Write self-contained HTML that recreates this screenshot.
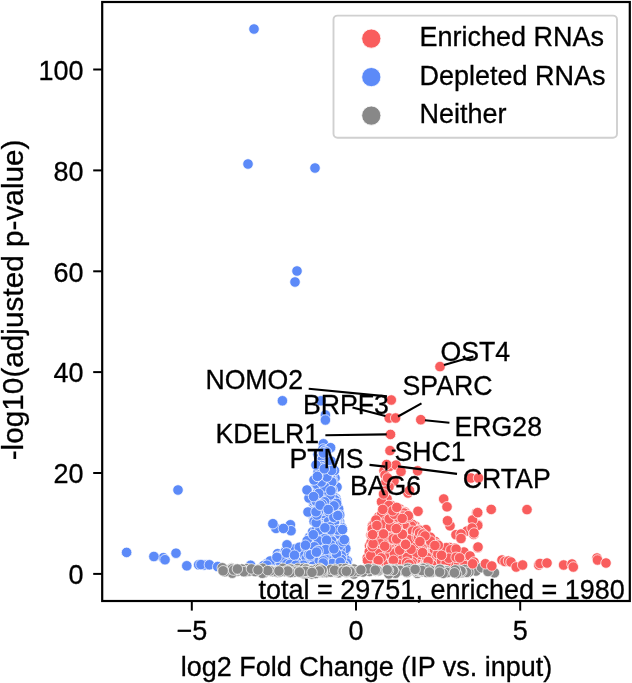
<!DOCTYPE html>
<html><head><meta charset="utf-8"><title>Volcano plot</title>
<style>
html,body{margin:0;padding:0;background:#fff;}
body{width:632px;height:683px;overflow:hidden;font-family:"Liberation Sans",sans-serif;}
svg{display:block;will-change:transform;}
text{font-family:"Liberation Sans",sans-serif;fill:#000;stroke:#000;stroke-width:0.3px;}
.tx,.tx text{font-size:27px;}
.yl{font-size:29.75px;}
.an text{font-size:26.67px;}
.pts circle{stroke:#fff;stroke-width:0.7px;}
.r{fill:#f95d5d;} .b{fill:#5c8af8;} .g{fill:#888888;}
</style></head><body>
<svg width="632" height="683" viewBox="0 0 632 683"><rect width="632" height="683" fill="#fff"/><g class="pts"><circle class="b" r="5.25" cx="347.3" cy="560.5"/><circle class="b" r="5.25" cx="126.6" cy="552.4"/><circle class="b" r="5.25" cx="318.4" cy="565.1"/><circle class="r" r="5.25" cx="370.9" cy="535.1"/><circle class="r" r="5.25" cx="400.9" cy="530.6"/><circle class="b" r="5.25" cx="319.8" cy="544.4"/><circle class="b" r="5.25" cx="335.0" cy="478.0"/><circle class="b" r="5.25" cx="330.7" cy="542.2"/><circle class="r" r="5.25" cx="418.0" cy="511.3"/><circle class="b" r="5.25" cx="330.8" cy="489.2"/><circle class="b" r="5.25" cx="254.0" cy="29.0"/><circle class="r" r="5.25" cx="382.4" cy="557.4"/><circle class="r" r="5.25" cx="367.2" cy="557.9"/><circle class="b" r="5.25" cx="306.6" cy="552.9"/><circle class="r" r="5.25" cx="389.0" cy="512.0"/><circle class="b" r="5.25" cx="286.5" cy="553.9"/><circle class="b" r="5.25" cx="331.1" cy="558.1"/><circle class="b" r="5.25" cx="324.4" cy="522.7"/><circle class="r" r="5.25" cx="410.5" cy="534.8"/><circle class="b" r="5.25" cx="300.2" cy="550.7"/><circle class="b" r="5.25" cx="320.6" cy="527.2"/><circle class="b" r="5.25" cx="305.2" cy="545.8"/><circle class="b" r="5.25" cx="343.5" cy="562.1"/><circle class="b" r="5.25" cx="206.0" cy="564.7"/><circle class="r" r="5.25" cx="406.2" cy="538.0"/><circle class="r" r="5.25" cx="401.1" cy="511.6"/><circle class="b" r="5.25" cx="328.3" cy="470.5"/><circle class="b" r="5.25" cx="318.8" cy="547.6"/><circle class="r" r="5.25" cx="455.0" cy="551.8"/><circle class="r" r="5.25" cx="389.2" cy="418.0"/><circle class="r" r="5.25" cx="378.7" cy="533.7"/><circle class="b" r="5.25" cx="279.6" cy="563.8"/><circle class="b" r="5.25" cx="305.7" cy="556.3"/><circle class="r" r="5.25" cx="427.7" cy="557.4"/><circle class="b" r="5.25" cx="306.5" cy="549.3"/><circle class="r" r="5.25" cx="452.1" cy="555.8"/><circle class="r" r="5.25" cx="404.8" cy="563.4"/><circle class="b" r="5.25" cx="321.0" cy="498.6"/><circle class="b" r="5.25" cx="318.7" cy="559.6"/><circle class="b" r="5.25" cx="337.3" cy="539.6"/><circle class="b" r="5.25" cx="327.9" cy="551.9"/><circle class="r" r="5.25" cx="381.8" cy="549.4"/><circle class="r" r="5.25" cx="407.1" cy="515.6"/><circle class="b" r="5.25" cx="290.4" cy="524.8"/><circle class="b" r="5.25" cx="291.0" cy="530.7"/><circle class="r" r="5.25" cx="384.8" cy="551.5"/><circle class="b" r="5.25" cx="334.2" cy="545.3"/><circle class="r" r="5.25" cx="407.9" cy="538.1"/><circle class="r" r="5.25" cx="449.8" cy="565.4"/><circle class="b" r="5.25" cx="321.2" cy="462.8"/><circle class="r" r="5.25" cx="385.2" cy="522.2"/><circle class="b" r="5.25" cx="344.6" cy="540.1"/><circle class="b" r="5.25" cx="327.8" cy="485.2"/><circle class="r" r="5.25" cx="442.8" cy="554.8"/><circle class="r" r="5.25" cx="441.0" cy="547.9"/><circle class="r" r="5.25" cx="426.5" cy="550.7"/><circle class="r" r="5.25" cx="388.3" cy="564.0"/><circle class="b" r="5.25" cx="322.1" cy="463.3"/><circle class="r" r="5.25" cx="428.8" cy="548.6"/><circle class="b" r="5.25" cx="339.1" cy="535.8"/><circle class="b" r="5.25" cx="325.2" cy="463.6"/><circle class="b" r="5.25" cx="319.3" cy="508.9"/><circle class="r" r="5.25" cx="410.6" cy="546.1"/><circle class="b" r="5.25" cx="308.8" cy="559.5"/><circle class="r" r="5.25" cx="389.5" cy="539.1"/><circle class="r" r="5.25" cx="400.4" cy="554.4"/><circle class="b" r="5.25" cx="323.5" cy="468.5"/><circle class="r" r="5.25" cx="398.0" cy="518.3"/><circle class="r" r="5.25" cx="395.9" cy="546.3"/><circle class="b" r="5.25" cx="339.3" cy="534.6"/><circle class="r" r="5.25" cx="428.7" cy="547.6"/><circle class="r" r="5.25" cx="410.0" cy="557.7"/><circle class="b" r="5.25" cx="313.2" cy="560.2"/><circle class="b" r="5.25" cx="340.5" cy="548.7"/><circle class="r" r="5.25" cx="427.7" cy="563.5"/><circle class="b" r="5.25" cx="315.1" cy="542.1"/><circle class="r" r="5.25" cx="450.0" cy="525.8"/><circle class="r" r="5.25" cx="423.8" cy="534.3"/><circle class="b" r="5.25" cx="293.7" cy="550.7"/><circle class="r" r="5.25" cx="390.0" cy="515.8"/><circle class="r" r="5.25" cx="384.0" cy="470.8"/><circle class="r" r="5.25" cx="401.3" cy="512.5"/><circle class="r" r="5.25" cx="429.1" cy="556.5"/><circle class="b" r="5.25" cx="336.8" cy="523.3"/><circle class="b" r="5.25" cx="337.0" cy="487.0"/><circle class="r" r="5.25" cx="477.8" cy="524.6"/><circle class="b" r="5.25" cx="297.0" cy="271.0"/><circle class="b" r="5.25" cx="319.6" cy="476.9"/><circle class="b" r="5.25" cx="267.0" cy="563.5"/><circle class="r" r="5.25" cx="460.2" cy="565.8"/><circle class="b" r="5.25" cx="330.3" cy="527.7"/><circle class="r" r="5.25" cx="396.0" cy="524.9"/><circle class="b" r="5.25" cx="313.5" cy="503.5"/><circle class="r" r="5.25" cx="397.4" cy="551.1"/><circle class="r" r="5.25" cx="398.8" cy="559.9"/><circle class="b" r="5.25" cx="276.0" cy="528.4"/><circle class="r" r="5.25" cx="410.7" cy="564.8"/><circle class="b" r="5.25" cx="326.5" cy="498.9"/><circle class="b" r="5.25" cx="339.7" cy="522.1"/><circle class="b" r="5.25" cx="322.3" cy="487.2"/><circle class="r" r="5.25" cx="420.1" cy="563.3"/><circle class="r" r="5.25" cx="385.3" cy="537.9"/><circle class="r" r="5.25" cx="438.7" cy="551.1"/><circle class="b" r="5.25" cx="323.3" cy="505.8"/><circle class="b" r="5.25" cx="319.7" cy="555.4"/><circle class="b" r="5.25" cx="319.6" cy="515.9"/><circle class="b" r="5.25" cx="337.8" cy="506.9"/><circle class="b" r="5.25" cx="277.6" cy="553.7"/><circle class="r" r="5.25" cx="386.5" cy="547.2"/><circle class="b" r="5.25" cx="324.4" cy="529.1"/><circle class="r" r="5.25" cx="387.0" cy="507.1"/><circle class="r" r="5.25" cx="446.0" cy="558.0"/><circle class="r" r="5.25" cx="383.7" cy="545.0"/><circle class="r" r="5.25" cx="415.7" cy="557.4"/><circle class="r" r="5.25" cx="441.5" cy="549.8"/><circle class="b" r="5.25" cx="320.6" cy="551.9"/><circle class="b" r="5.25" cx="333.8" cy="547.4"/><circle class="b" r="5.25" cx="335.7" cy="500.1"/><circle class="b" r="5.25" cx="314.0" cy="533.5"/><circle class="r" r="5.25" cx="378.5" cy="516.9"/><circle class="r" r="5.25" cx="435.2" cy="541.4"/><circle class="b" r="5.25" cx="334.0" cy="551.2"/><circle class="r" r="5.25" cx="389.2" cy="537.4"/><circle class="b" r="5.25" cx="323.2" cy="444.0"/><circle class="r" r="5.25" cx="461.0" cy="556.8"/><circle class="b" r="5.25" cx="331.8" cy="490.3"/><circle class="r" r="5.25" cx="403.3" cy="513.6"/><circle class="r" r="5.25" cx="413.1" cy="565.1"/><circle class="r" r="5.25" cx="424.0" cy="542.6"/><circle class="r" r="5.25" cx="403.3" cy="520.7"/><circle class="b" r="5.25" cx="285.3" cy="551.2"/><circle class="r" r="5.25" cx="412.4" cy="531.8"/><circle class="r" r="5.25" cx="403.9" cy="518.5"/><circle class="r" r="5.25" cx="436.5" cy="553.9"/><circle class="b" r="5.25" cx="330.7" cy="540.1"/><circle class="r" r="5.25" cx="394.0" cy="481.0"/><circle class="b" r="5.25" cx="333.2" cy="557.8"/><circle class="r" r="5.25" cx="411.5" cy="555.7"/><circle class="b" r="5.25" cx="336.1" cy="563.1"/><circle class="r" r="5.25" cx="393.9" cy="551.6"/><circle class="b" r="5.25" cx="332.4" cy="557.0"/><circle class="b" r="5.25" cx="319.9" cy="468.3"/><circle class="r" r="5.25" cx="392.2" cy="509.0"/><circle class="r" r="5.25" cx="393.7" cy="532.4"/><circle class="r" r="5.25" cx="397.9" cy="558.1"/><circle class="r" r="5.25" cx="372.3" cy="559.4"/><circle class="b" r="5.25" cx="318.0" cy="454.5"/><circle class="r" r="5.25" cx="458.1" cy="560.0"/><circle class="r" r="5.25" cx="379.9" cy="520.4"/><circle class="b" r="5.25" cx="316.7" cy="523.4"/><circle class="r" r="5.25" cx="452.0" cy="557.5"/><circle class="b" r="5.25" cx="204.0" cy="565.0"/><circle class="r" r="5.25" cx="476.6" cy="513.0"/><circle class="r" r="5.25" cx="379.9" cy="539.4"/><circle class="b" r="5.25" cx="302.0" cy="555.3"/><circle class="b" r="5.25" cx="328.0" cy="554.5"/><circle class="b" r="5.25" cx="314.8" cy="563.6"/><circle class="b" r="5.25" cx="319.5" cy="536.9"/><circle class="r" r="5.25" cx="413.6" cy="533.8"/><circle class="r" r="5.25" cx="386.3" cy="508.4"/><circle class="b" r="5.25" cx="309.6" cy="561.7"/><circle class="r" r="5.25" cx="378.1" cy="521.2"/><circle class="r" r="5.25" cx="385.4" cy="543.2"/><circle class="r" r="5.25" cx="434.1" cy="555.0"/><circle class="b" r="5.25" cx="326.2" cy="461.0"/><circle class="r" r="5.25" cx="418.4" cy="529.5"/><circle class="b" r="5.25" cx="323.6" cy="472.4"/><circle class="b" r="5.25" cx="337.9" cy="555.7"/><circle class="r" r="5.25" cx="382.1" cy="518.8"/><circle class="r" r="5.25" cx="375.4" cy="537.4"/><circle class="r" r="5.25" cx="386.6" cy="510.3"/><circle class="b" r="5.25" cx="333.7" cy="506.1"/><circle class="b" r="5.25" cx="339.6" cy="524.4"/><circle class="b" r="5.25" cx="301.1" cy="562.9"/><circle class="r" r="5.25" cx="467.0" cy="531.0"/><circle class="b" r="5.25" cx="338.4" cy="553.6"/><circle class="r" r="5.25" cx="452.1" cy="552.4"/><circle class="r" r="5.25" cx="419.0" cy="535.6"/><circle class="b" r="5.25" cx="178.0" cy="490.0"/><circle class="r" r="5.25" cx="393.5" cy="543.7"/><circle class="b" r="5.25" cx="308.0" cy="563.8"/><circle class="r" r="5.25" cx="390.8" cy="505.6"/><circle class="b" r="5.25" cx="341.7" cy="565.2"/><circle class="b" r="5.25" cx="336.7" cy="524.9"/><circle class="b" r="5.25" cx="324.3" cy="504.2"/><circle class="r" r="5.25" cx="441.0" cy="563.7"/><circle class="b" r="5.25" cx="250.6" cy="565.3"/><circle class="b" r="5.25" cx="321.6" cy="512.2"/><circle class="b" r="5.25" cx="333.9" cy="540.4"/><circle class="r" r="5.25" cx="382.9" cy="515.5"/><circle class="b" r="5.25" cx="331.6" cy="542.0"/><circle class="b" r="5.25" cx="319.8" cy="512.5"/><circle class="r" r="5.25" cx="387.8" cy="558.7"/><circle class="r" r="5.25" cx="419.5" cy="554.9"/><circle class="b" r="5.25" cx="325.0" cy="551.0"/><circle class="r" r="5.25" cx="391.8" cy="529.6"/><circle class="r" r="5.25" cx="418.4" cy="555.0"/><circle class="r" r="5.25" cx="369.5" cy="545.8"/><circle class="r" r="5.25" cx="407.0" cy="523.1"/><circle class="b" r="5.25" cx="345.1" cy="559.3"/><circle class="b" r="5.25" cx="321.1" cy="478.2"/><circle class="r" r="5.25" cx="380.7" cy="531.2"/><circle class="r" r="5.25" cx="396.5" cy="530.9"/><circle class="b" r="5.25" cx="330.1" cy="503.0"/><circle class="b" r="5.25" cx="318.9" cy="551.9"/><circle class="r" r="5.25" cx="415.4" cy="526.1"/><circle class="b" r="5.25" cx="334.2" cy="547.2"/><circle class="b" r="5.25" cx="333.9" cy="534.4"/><circle class="b" r="5.25" cx="330.4" cy="496.2"/><circle class="r" r="5.25" cx="444.3" cy="555.4"/><circle class="b" r="5.25" cx="337.5" cy="520.0"/><circle class="b" r="5.25" cx="284.7" cy="561.9"/><circle class="r" r="5.25" cx="384.7" cy="552.6"/><circle class="b" r="5.25" cx="318.2" cy="537.5"/><circle class="r" r="5.25" cx="384.7" cy="496.8"/><circle class="b" r="5.25" cx="328.1" cy="553.1"/><circle class="b" r="5.25" cx="324.0" cy="470.6"/><circle class="r" r="5.25" cx="382.3" cy="520.1"/><circle class="r" r="5.25" cx="450.5" cy="559.3"/><circle class="b" r="5.25" cx="341.9" cy="527.6"/><circle class="b" r="5.25" cx="316.6" cy="497.4"/><circle class="b" r="5.25" cx="283.4" cy="528.4"/><circle class="b" r="5.25" cx="304.3" cy="564.1"/><circle class="b" r="5.25" cx="333.0" cy="497.3"/><circle class="r" r="5.25" cx="382.4" cy="521.3"/><circle class="b" r="5.25" cx="315.0" cy="168.0"/><circle class="b" r="5.25" cx="317.2" cy="556.3"/><circle class="b" r="5.25" cx="336.8" cy="523.6"/><circle class="r" r="5.25" cx="372.0" cy="559.1"/><circle class="b" r="5.25" cx="340.4" cy="540.4"/><circle class="b" r="5.25" cx="333.4" cy="563.9"/><circle class="r" r="5.25" cx="444.6" cy="551.5"/><circle class="b" r="5.25" cx="163.3" cy="557.7"/><circle class="b" r="5.25" cx="328.3" cy="477.5"/><circle class="b" r="5.25" cx="318.5" cy="504.5"/><circle class="b" r="5.25" cx="326.2" cy="453.5"/><circle class="r" r="5.25" cx="405.9" cy="525.3"/><circle class="r" r="5.25" cx="446.2" cy="547.6"/><circle class="b" r="5.25" cx="309.3" cy="560.3"/><circle class="b" r="5.25" cx="277.4" cy="559.7"/><circle class="r" r="5.25" cx="402.8" cy="540.5"/><circle class="b" r="5.25" cx="342.5" cy="565.6"/><circle class="r" r="5.25" cx="377.8" cy="564.4"/><circle class="b" r="5.25" cx="320.5" cy="538.8"/><circle class="b" r="5.25" cx="315.3" cy="536.0"/><circle class="b" r="5.25" cx="324.3" cy="452.5"/><circle class="r" r="5.25" cx="372.6" cy="538.5"/><circle class="r" r="5.25" cx="389.0" cy="486.6"/><circle class="r" r="5.25" cx="372.7" cy="558.0"/><circle class="r" r="5.25" cx="408.4" cy="544.5"/><circle class="b" r="5.25" cx="319.2" cy="543.4"/><circle class="b" r="5.25" cx="335.7" cy="543.8"/><circle class="r" r="5.25" cx="400.3" cy="531.3"/><circle class="r" r="5.25" cx="418.8" cy="531.0"/><circle class="r" r="5.25" cx="452.3" cy="561.4"/><circle class="r" r="5.25" cx="421.5" cy="561.2"/><circle class="r" r="5.25" cx="411.2" cy="542.4"/><circle class="r" r="5.25" cx="392.7" cy="515.7"/><circle class="r" r="5.25" cx="458.8" cy="551.8"/><circle class="r" r="5.25" cx="390.6" cy="505.2"/><circle class="r" r="5.25" cx="405.4" cy="539.9"/><circle class="b" r="5.25" cx="339.0" cy="534.7"/><circle class="r" r="5.25" cx="390.3" cy="552.9"/><circle class="r" r="5.25" cx="408.8" cy="536.4"/><circle class="b" r="5.25" cx="335.3" cy="523.2"/><circle class="b" r="5.25" cx="295.1" cy="551.7"/><circle class="r" r="5.25" cx="428.7" cy="553.8"/><circle class="b" r="5.25" cx="315.9" cy="485.2"/><circle class="r" r="5.25" cx="383.6" cy="507.2"/><circle class="b" r="5.25" cx="346.3" cy="564.6"/><circle class="b" r="5.25" cx="318.1" cy="485.1"/><circle class="b" r="5.25" cx="336.5" cy="547.6"/><circle class="b" r="5.25" cx="315.0" cy="563.8"/><circle class="b" r="5.25" cx="314.8" cy="508.2"/><circle class="r" r="5.25" cx="390.5" cy="434.4"/><circle class="r" r="5.25" cx="384.5" cy="556.6"/><circle class="b" r="5.25" cx="335.3" cy="512.8"/><circle class="r" r="5.25" cx="397.6" cy="546.5"/><circle class="r" r="5.25" cx="454.3" cy="564.4"/><circle class="r" r="5.25" cx="412.2" cy="527.3"/><circle class="r" r="5.25" cx="396.0" cy="507.5"/><circle class="b" r="5.25" cx="153.9" cy="556.5"/><circle class="r" r="5.25" cx="408.1" cy="560.9"/><circle class="r" r="5.25" cx="435.6" cy="555.0"/><circle class="r" r="5.25" cx="418.4" cy="534.8"/><circle class="b" r="5.25" cx="344.3" cy="552.0"/><circle class="b" r="5.25" cx="323.3" cy="541.6"/><circle class="r" r="5.25" cx="378.0" cy="535.3"/><circle class="b" r="5.25" cx="332.4" cy="500.9"/><circle class="b" r="5.25" cx="329.3" cy="539.8"/><circle class="r" r="5.25" cx="477.7" cy="525.4"/><circle class="r" r="5.25" cx="414.5" cy="548.5"/><circle class="b" r="5.25" cx="323.5" cy="546.2"/><circle class="r" r="5.25" cx="412.4" cy="524.4"/><circle class="b" r="5.25" cx="343.5" cy="543.4"/><circle class="b" r="5.25" cx="285.8" cy="563.9"/><circle class="b" r="5.25" cx="318.2" cy="506.8"/><circle class="b" r="5.25" cx="282.4" cy="400.8"/><circle class="r" r="5.25" cx="391.9" cy="554.5"/><circle class="b" r="5.25" cx="324.1" cy="523.0"/><circle class="r" r="5.25" cx="371.1" cy="542.5"/><circle class="r" r="5.25" cx="391.3" cy="400.0"/><circle class="b" r="5.25" cx="311.1" cy="561.7"/><circle class="r" r="5.25" cx="411.1" cy="542.1"/><circle class="r" r="5.25" cx="375.0" cy="548.2"/><circle class="r" r="5.25" cx="470.9" cy="478.0"/><circle class="r" r="5.25" cx="385.0" cy="475.0"/><circle class="b" r="5.25" cx="335.2" cy="551.6"/><circle class="b" r="5.25" cx="321.4" cy="486.7"/><circle class="b" r="5.25" cx="336.3" cy="559.4"/><circle class="r" r="5.25" cx="372.0" cy="547.0"/><circle class="b" r="5.25" cx="317.3" cy="485.8"/><circle class="b" r="5.25" cx="317.3" cy="496.3"/><circle class="r" r="5.25" cx="472.6" cy="520.0"/><circle class="r" r="5.25" cx="411.7" cy="535.5"/><circle class="b" r="5.25" cx="311.6" cy="561.4"/><circle class="b" r="5.25" cx="342.9" cy="539.9"/><circle class="r" r="5.25" cx="456.0" cy="534.7"/><circle class="b" r="5.25" cx="301.7" cy="558.6"/><circle class="b" r="5.25" cx="317.9" cy="526.2"/><circle class="r" r="5.25" cx="395.2" cy="523.9"/><circle class="r" r="5.25" cx="388.5" cy="559.3"/><circle class="r" r="5.25" cx="430.2" cy="561.9"/><circle class="b" r="5.25" cx="303.5" cy="557.5"/><circle class="b" r="5.25" cx="323.2" cy="446.4"/><circle class="b" r="5.25" cx="329.6" cy="463.8"/><circle class="r" r="5.25" cx="382.3" cy="547.5"/><circle class="r" r="5.25" cx="399.1" cy="544.8"/><circle class="b" r="5.25" cx="284.9" cy="563.4"/><circle class="b" r="5.25" cx="314.4" cy="496.9"/><circle class="b" r="5.25" cx="314.4" cy="497.7"/><circle class="r" r="5.25" cx="399.7" cy="514.6"/><circle class="r" r="5.25" cx="422.2" cy="553.6"/><circle class="b" r="5.25" cx="332.2" cy="491.4"/><circle class="r" r="5.25" cx="385.6" cy="536.8"/><circle class="b" r="5.25" cx="303.2" cy="561.5"/><circle class="r" r="5.25" cx="383.6" cy="552.4"/><circle class="r" r="5.25" cx="389.7" cy="466.4"/><circle class="b" r="5.25" cx="341.7" cy="543.4"/><circle class="r" r="5.25" cx="373.4" cy="533.5"/><circle class="b" r="5.25" cx="335.8" cy="539.3"/><circle class="b" r="5.25" cx="319.9" cy="525.1"/><circle class="r" r="5.25" cx="422.8" cy="544.4"/><circle class="r" r="5.25" cx="418.7" cy="529.5"/><circle class="b" r="5.25" cx="317.2" cy="560.7"/><circle class="r" r="5.25" cx="383.6" cy="550.0"/><circle class="r" r="5.25" cx="392.3" cy="541.5"/><circle class="r" r="5.25" cx="424.4" cy="544.0"/><circle class="b" r="5.25" cx="338.3" cy="531.8"/><circle class="b" r="5.25" cx="320.5" cy="533.0"/><circle class="r" r="5.25" cx="387.8" cy="560.6"/><circle class="b" r="5.25" cx="309.4" cy="537.3"/><circle class="b" r="5.25" cx="329.5" cy="506.7"/><circle class="b" r="5.25" cx="332.0" cy="489.5"/><circle class="r" r="5.25" cx="416.8" cy="562.8"/><circle class="r" r="5.25" cx="404.2" cy="540.5"/><circle class="r" r="5.25" cx="419.7" cy="536.2"/><circle class="b" r="5.25" cx="330.1" cy="554.0"/><circle class="b" r="5.25" cx="323.9" cy="521.6"/><circle class="b" r="5.25" cx="320.7" cy="468.0"/><circle class="b" r="5.25" cx="344.6" cy="541.0"/><circle class="r" r="5.25" cx="421.2" cy="540.1"/><circle class="r" r="5.25" cx="431.1" cy="557.1"/><circle class="r" r="5.25" cx="392.5" cy="525.2"/><circle class="b" r="5.25" cx="313.8" cy="560.4"/><circle class="b" r="5.25" cx="312.6" cy="531.9"/><circle class="b" r="5.25" cx="318.2" cy="493.9"/><circle class="r" r="5.25" cx="395.8" cy="518.3"/><circle class="b" r="5.25" cx="323.9" cy="478.6"/><circle class="b" r="5.25" cx="312.7" cy="558.3"/><circle class="b" r="5.25" cx="339.0" cy="511.8"/><circle class="r" r="5.25" cx="405.5" cy="523.3"/><circle class="r" r="5.25" cx="411.7" cy="558.3"/><circle class="r" r="5.25" cx="402.7" cy="551.8"/><circle class="b" r="5.25" cx="320.3" cy="550.6"/><circle class="r" r="5.25" cx="449.7" cy="547.5"/><circle class="r" r="5.25" cx="393.0" cy="537.4"/><circle class="b" r="5.25" cx="325.9" cy="532.1"/><circle class="r" r="5.25" cx="407.2" cy="538.4"/><circle class="r" r="5.25" cx="408.0" cy="493.0"/><circle class="b" r="5.25" cx="320.9" cy="400.8"/><circle class="r" r="5.25" cx="436.6" cy="564.9"/><circle class="r" r="5.25" cx="443.7" cy="499.0"/><circle class="r" r="5.25" cx="427.2" cy="537.1"/><circle class="b" r="5.25" cx="315.1" cy="518.7"/><circle class="r" r="5.25" cx="491.2" cy="509.4"/><circle class="r" r="5.25" cx="411.4" cy="526.1"/><circle class="b" r="5.25" cx="330.1" cy="507.5"/><circle class="b" r="5.25" cx="286.9" cy="559.6"/><circle class="r" r="5.25" cx="448.6" cy="558.7"/><circle class="b" r="5.25" cx="332.8" cy="557.6"/><circle class="r" r="5.25" cx="449.2" cy="556.4"/><circle class="b" r="5.25" cx="323.0" cy="453.2"/><circle class="r" r="5.25" cx="406.0" cy="529.5"/><circle class="r" r="5.25" cx="416.2" cy="537.9"/><circle class="b" r="5.25" cx="338.6" cy="562.6"/><circle class="r" r="5.25" cx="399.4" cy="518.2"/><circle class="r" r="5.25" cx="369.3" cy="551.8"/><circle class="b" r="5.25" cx="338.6" cy="546.7"/><circle class="b" r="5.25" cx="298.3" cy="556.4"/><circle class="b" r="5.25" cx="323.4" cy="443.8"/><circle class="r" r="5.25" cx="442.4" cy="555.2"/><circle class="r" r="5.25" cx="401.2" cy="551.1"/><circle class="b" r="5.25" cx="324.8" cy="557.1"/><circle class="b" r="5.25" cx="320.8" cy="467.2"/><circle class="r" r="5.25" cx="411.1" cy="534.0"/><circle class="r" r="5.25" cx="372.8" cy="527.4"/><circle class="r" r="5.25" cx="416.7" cy="534.5"/><circle class="r" r="5.25" cx="426.0" cy="529.6"/><circle class="b" r="5.25" cx="331.3" cy="537.8"/><circle class="r" r="5.25" cx="395.3" cy="544.7"/><circle class="b" r="5.25" cx="335.7" cy="565.7"/><circle class="b" r="5.25" cx="321.3" cy="510.0"/><circle class="b" r="5.25" cx="313.4" cy="516.4"/><circle class="r" r="5.25" cx="385.0" cy="509.5"/><circle class="b" r="5.25" cx="322.6" cy="559.0"/><circle class="b" r="5.25" cx="332.3" cy="559.9"/><circle class="b" r="5.25" cx="314.2" cy="516.3"/><circle class="b" r="5.25" cx="272.4" cy="561.0"/><circle class="b" r="5.25" cx="322.5" cy="544.3"/><circle class="r" r="5.25" cx="447.2" cy="558.0"/><circle class="b" r="5.25" cx="198.7" cy="564.8"/><circle class="r" r="5.25" cx="405.2" cy="550.3"/><circle class="b" r="5.25" cx="201.0" cy="564.6"/><circle class="b" r="5.25" cx="293.9" cy="554.5"/><circle class="b" r="5.25" cx="338.3" cy="531.6"/><circle class="r" r="5.25" cx="527.0" cy="509.6"/><circle class="b" r="5.25" cx="320.1" cy="522.5"/><circle class="b" r="5.25" cx="324.1" cy="484.3"/><circle class="b" r="5.25" cx="321.2" cy="482.2"/><circle class="r" r="5.25" cx="405.8" cy="527.3"/><circle class="r" r="5.25" cx="382.5" cy="521.9"/><circle class="b" r="5.25" cx="318.9" cy="474.5"/><circle class="b" r="5.25" cx="330.9" cy="564.1"/><circle class="r" r="5.25" cx="443.1" cy="562.2"/><circle class="r" r="5.25" cx="377.8" cy="552.9"/><circle class="b" r="5.25" cx="272.9" cy="523.7"/><circle class="r" r="5.25" cx="463.7" cy="561.9"/><circle class="b" r="5.25" cx="316.4" cy="544.6"/><circle class="b" r="5.25" cx="341.9" cy="542.7"/><circle class="r" r="5.25" cx="383.7" cy="519.8"/><circle class="r" r="5.25" cx="387.0" cy="506.3"/><circle class="b" r="5.25" cx="319.2" cy="458.2"/><circle class="r" r="5.25" cx="419.6" cy="562.3"/><circle class="r" r="5.25" cx="404.1" cy="524.4"/><circle class="r" r="5.25" cx="441.3" cy="562.7"/><circle class="b" r="5.25" cx="319.9" cy="545.2"/><circle class="b" r="5.25" cx="324.1" cy="563.0"/><circle class="b" r="5.25" cx="327.4" cy="482.9"/><circle class="b" r="5.25" cx="294.3" cy="549.1"/><circle class="r" r="5.25" cx="400.4" cy="535.6"/><circle class="r" r="5.25" cx="434.5" cy="549.6"/><circle class="r" r="5.25" cx="376.3" cy="561.5"/><circle class="r" r="5.25" cx="439.2" cy="558.6"/><circle class="b" r="5.25" cx="209.4" cy="564.8"/><circle class="r" r="5.25" cx="424.8" cy="558.4"/><circle class="b" r="5.25" cx="326.8" cy="521.3"/><circle class="b" r="5.25" cx="332.3" cy="546.9"/><circle class="b" r="5.25" cx="314.1" cy="514.0"/><circle class="b" r="5.25" cx="339.4" cy="562.0"/><circle class="b" r="5.25" cx="325.1" cy="474.6"/><circle class="r" r="5.25" cx="383.7" cy="525.7"/><circle class="r" r="5.25" cx="404.3" cy="539.6"/><circle class="r" r="5.25" cx="472.0" cy="528.0"/><circle class="b" r="5.25" cx="315.6" cy="545.9"/><circle class="r" r="5.25" cx="419.3" cy="530.3"/><circle class="b" r="5.25" cx="310.0" cy="539.2"/><circle class="r" r="5.25" cx="396.4" cy="516.3"/><circle class="b" r="5.25" cx="330.5" cy="480.5"/><circle class="r" r="5.25" cx="385.6" cy="514.5"/><circle class="r" r="5.25" cx="447.6" cy="564.7"/><circle class="b" r="5.25" cx="325.2" cy="563.4"/><circle class="r" r="5.25" cx="447.5" cy="520.8"/><circle class="b" r="5.25" cx="186.8" cy="565.8"/><circle class="b" r="5.25" cx="340.4" cy="538.7"/><circle class="b" r="5.25" cx="324.7" cy="492.0"/><circle class="b" r="5.25" cx="330.5" cy="529.1"/><circle class="b" r="5.25" cx="327.2" cy="481.1"/><circle class="r" r="5.25" cx="411.1" cy="557.4"/><circle class="b" r="5.25" cx="330.4" cy="493.3"/><circle class="r" r="5.25" cx="423.4" cy="551.6"/><circle class="b" r="5.25" cx="323.8" cy="467.3"/><circle class="r" r="5.25" cx="376.0" cy="532.3"/><circle class="b" r="5.25" cx="324.5" cy="520.1"/><circle class="r" r="5.25" cx="403.2" cy="534.5"/><circle class="b" r="5.25" cx="346.6" cy="563.1"/><circle class="b" r="5.25" cx="331.0" cy="555.2"/><circle class="b" r="5.25" cx="322.4" cy="525.7"/><circle class="b" r="5.25" cx="318.0" cy="472.8"/><circle class="b" r="5.25" cx="335.8" cy="543.5"/><circle class="b" r="5.25" cx="278.5" cy="556.3"/><circle class="b" r="5.25" cx="329.7" cy="497.9"/><circle class="r" r="5.25" cx="383.8" cy="523.0"/><circle class="r" r="5.25" cx="376.4" cy="521.2"/><circle class="r" r="5.25" cx="417.0" cy="563.7"/><circle class="r" r="5.25" cx="400.5" cy="534.1"/><circle class="b" r="5.25" cx="326.9" cy="537.2"/><circle class="b" r="5.25" cx="332.8" cy="480.9"/><circle class="b" r="5.25" cx="335.3" cy="553.7"/><circle class="r" r="5.25" cx="387.0" cy="498.7"/><circle class="b" r="5.25" cx="331.8" cy="476.0"/><circle class="r" r="5.25" cx="451.2" cy="551.9"/><circle class="r" r="5.25" cx="382.9" cy="546.0"/><circle class="r" r="5.25" cx="379.3" cy="548.2"/><circle class="b" r="5.25" cx="317.4" cy="486.6"/><circle class="b" r="5.25" cx="326.3" cy="552.0"/><circle class="r" r="5.25" cx="393.1" cy="530.3"/><circle class="b" r="5.25" cx="321.7" cy="557.9"/><circle class="r" r="5.25" cx="386.0" cy="481.6"/><circle class="b" r="5.25" cx="325.3" cy="535.0"/><circle class="b" r="5.25" cx="301.3" cy="564.2"/><circle class="r" r="5.25" cx="396.0" cy="465.1"/><circle class="r" r="5.25" cx="376.5" cy="526.6"/><circle class="b" r="5.25" cx="344.6" cy="542.8"/><circle class="b" r="5.25" cx="335.0" cy="521.0"/><circle class="r" r="5.25" cx="387.5" cy="478.0"/><circle class="b" r="5.25" cx="217.7" cy="566.6"/><circle class="b" r="5.25" cx="333.9" cy="517.6"/><circle class="b" r="5.25" cx="339.8" cy="564.2"/><circle class="b" r="5.25" cx="327.6" cy="535.9"/><circle class="r" r="5.25" cx="425.3" cy="558.6"/><circle class="r" r="5.25" cx="401.4" cy="562.5"/><circle class="r" r="5.25" cx="399.4" cy="532.5"/><circle class="r" r="5.25" cx="401.0" cy="560.9"/><circle class="b" r="5.25" cx="295.5" cy="563.7"/><circle class="r" r="5.25" cx="422.4" cy="548.0"/><circle class="b" r="5.25" cx="327.3" cy="552.5"/><circle class="r" r="5.25" cx="375.1" cy="544.6"/><circle class="r" r="5.25" cx="396.3" cy="517.7"/><circle class="b" r="5.25" cx="309.3" cy="542.2"/><circle class="b" r="5.25" cx="318.6" cy="499.5"/><circle class="r" r="5.25" cx="425.6" cy="563.5"/><circle class="b" r="5.25" cx="318.8" cy="487.7"/><circle class="r" r="5.25" cx="398.3" cy="519.1"/><circle class="r" r="5.25" cx="414.0" cy="539.4"/><circle class="r" r="5.25" cx="390.0" cy="450.6"/><circle class="b" r="5.25" cx="323.0" cy="449.0"/><circle class="b" r="5.25" cx="323.7" cy="526.9"/><circle class="b" r="5.25" cx="285.4" cy="551.5"/><circle class="b" r="5.25" cx="322.2" cy="513.4"/><circle class="r" r="5.25" cx="372.1" cy="546.5"/><circle class="b" r="5.25" cx="311.4" cy="539.3"/><circle class="b" r="5.25" cx="344.7" cy="565.6"/><circle class="b" r="5.25" cx="324.4" cy="553.5"/><circle class="b" r="5.25" cx="333.0" cy="553.4"/><circle class="r" r="5.25" cx="382.4" cy="512.0"/><circle class="b" r="5.25" cx="318.2" cy="557.2"/><circle class="r" r="5.25" cx="425.4" cy="565.2"/><circle class="r" r="5.25" cx="395.2" cy="528.4"/><circle class="r" r="5.25" cx="388.1" cy="521.9"/><circle class="r" r="5.25" cx="436.3" cy="544.1"/><circle class="b" r="5.25" cx="329.8" cy="521.2"/><circle class="b" r="5.25" cx="340.2" cy="543.9"/><circle class="b" r="5.25" cx="330.3" cy="559.7"/><circle class="r" r="5.25" cx="377.6" cy="538.4"/><circle class="b" r="5.25" cx="317.2" cy="493.1"/><circle class="r" r="5.25" cx="403.1" cy="552.1"/><circle class="r" r="5.25" cx="447.0" cy="506.8"/><circle class="b" r="5.25" cx="331.2" cy="499.3"/><circle class="r" r="5.25" cx="378.0" cy="561.3"/><circle class="r" r="5.25" cx="394.4" cy="519.5"/><circle class="b" r="5.25" cx="304.9" cy="558.4"/><circle class="r" r="5.25" cx="396.1" cy="547.8"/><circle class="r" r="5.25" cx="370.2" cy="561.4"/><circle class="b" r="5.25" cx="325.7" cy="472.0"/><circle class="b" r="5.25" cx="337.3" cy="563.3"/><circle class="r" r="5.25" cx="393.0" cy="513.0"/><circle class="b" r="5.25" cx="279.3" cy="557.7"/><circle class="b" r="5.25" cx="317.9" cy="540.3"/><circle class="r" r="5.25" cx="372.5" cy="525.5"/><circle class="b" r="5.25" cx="330.8" cy="522.3"/><circle class="r" r="5.25" cx="377.9" cy="557.3"/><circle class="b" r="5.25" cx="330.6" cy="501.6"/><circle class="b" r="5.25" cx="340.2" cy="553.0"/><circle class="r" r="5.25" cx="477.7" cy="512.6"/><circle class="b" r="5.25" cx="322.4" cy="458.8"/><circle class="b" r="5.25" cx="328.2" cy="525.6"/><circle class="b" r="5.25" cx="307.6" cy="558.3"/><circle class="b" r="5.25" cx="280.8" cy="564.9"/><circle class="r" r="5.25" cx="379.0" cy="526.5"/><circle class="r" r="5.25" cx="381.2" cy="539.3"/><circle class="r" r="5.25" cx="461.0" cy="534.0"/><circle class="r" r="5.25" cx="388.5" cy="538.9"/><circle class="r" r="5.25" cx="390.6" cy="518.2"/><circle class="r" r="5.25" cx="378.8" cy="548.0"/><circle class="b" r="5.25" cx="287.0" cy="544.8"/><circle class="r" r="5.25" cx="427.3" cy="563.9"/><circle class="r" r="5.25" cx="376.6" cy="559.9"/><circle class="b" r="5.25" cx="335.8" cy="512.1"/><circle class="r" r="5.25" cx="430.3" cy="537.2"/><circle class="b" r="5.25" cx="332.1" cy="535.0"/><circle class="b" r="5.25" cx="336.4" cy="501.8"/><circle class="r" r="5.25" cx="408.3" cy="552.6"/><circle class="r" r="5.25" cx="454.5" cy="553.5"/><circle class="r" r="5.25" cx="389.0" cy="506.6"/><circle class="r" r="5.25" cx="399.9" cy="508.9"/><circle class="r" r="5.25" cx="464.0" cy="552.0"/><circle class="b" r="5.25" cx="330.3" cy="482.7"/><circle class="b" r="5.25" cx="322.0" cy="460.2"/><circle class="r" r="5.25" cx="413.3" cy="537.5"/><circle class="r" r="5.25" cx="401.9" cy="511.5"/><circle class="r" r="5.25" cx="398.6" cy="558.4"/><circle class="b" r="5.25" cx="338.6" cy="508.8"/><circle class="b" r="5.25" cx="338.6" cy="557.7"/><circle class="r" r="5.25" cx="404.0" cy="555.4"/><circle class="b" r="5.25" cx="310.8" cy="554.4"/><circle class="b" r="5.25" cx="325.4" cy="539.5"/><circle class="b" r="5.25" cx="339.7" cy="515.0"/><circle class="r" r="5.25" cx="381.4" cy="539.1"/><circle class="b" r="5.25" cx="317.0" cy="484.5"/><circle class="r" r="5.25" cx="413.4" cy="532.1"/><circle class="b" r="5.25" cx="304.3" cy="562.0"/><circle class="r" r="5.25" cx="454.2" cy="565.7"/><circle class="b" r="5.25" cx="329.3" cy="485.3"/><circle class="b" r="5.25" cx="333.7" cy="522.1"/><circle class="r" r="5.25" cx="449.4" cy="557.5"/><circle class="r" r="5.25" cx="391.5" cy="511.7"/><circle class="b" r="5.25" cx="331.9" cy="540.7"/><circle class="r" r="5.25" cx="390.7" cy="512.0"/><circle class="r" r="5.25" cx="385.4" cy="530.4"/><circle class="b" r="5.25" cx="319.7" cy="556.1"/><circle class="b" r="5.25" cx="318.8" cy="534.9"/><circle class="r" r="5.25" cx="446.3" cy="547.7"/><circle class="b" r="5.25" cx="326.5" cy="498.3"/><circle class="b" r="5.25" cx="325.4" cy="536.5"/><circle class="r" r="5.25" cx="388.9" cy="561.8"/><circle class="b" r="5.25" cx="328.5" cy="558.5"/><circle class="r" r="5.25" cx="398.5" cy="559.6"/><circle class="b" r="5.25" cx="311.4" cy="559.3"/><circle class="b" r="5.25" cx="309.0" cy="562.9"/><circle class="b" r="5.25" cx="330.4" cy="476.0"/><circle class="r" r="5.25" cx="376.4" cy="543.7"/><circle class="b" r="5.25" cx="308.0" cy="512.0"/><circle class="r" r="5.25" cx="384.0" cy="554.8"/><circle class="r" r="5.25" cx="383.2" cy="519.9"/><circle class="b" r="5.25" cx="335.8" cy="498.2"/><circle class="r" r="5.25" cx="417.4" cy="558.0"/><circle class="b" r="5.25" cx="327.2" cy="490.8"/><circle class="r" r="5.25" cx="454.5" cy="559.0"/><circle class="b" r="5.25" cx="325.0" cy="515.9"/><circle class="r" r="5.25" cx="437.8" cy="553.8"/><circle class="b" r="5.25" cx="333.2" cy="529.2"/><circle class="r" r="5.25" cx="381.7" cy="514.2"/><circle class="r" r="5.25" cx="414.6" cy="559.1"/><circle class="b" r="5.25" cx="324.9" cy="465.3"/><circle class="b" r="5.25" cx="313.9" cy="543.9"/><circle class="r" r="5.25" cx="402.3" cy="548.5"/><circle class="r" r="5.25" cx="477.7" cy="547.7"/><circle class="b" r="5.25" cx="325.1" cy="558.0"/><circle class="b" r="5.25" cx="330.6" cy="447.7"/><circle class="r" r="5.25" cx="405.2" cy="512.1"/><circle class="r" r="5.25" cx="385.4" cy="555.4"/><circle class="b" r="5.25" cx="315.4" cy="549.4"/><circle class="b" r="5.25" cx="330.3" cy="488.7"/><circle class="r" r="5.25" cx="430.8" cy="543.0"/><circle class="r" r="5.25" cx="367.5" cy="560.4"/><circle class="r" r="5.25" cx="405.2" cy="555.4"/><circle class="r" r="5.25" cx="385.5" cy="491.0"/><circle class="r" r="5.25" cx="415.7" cy="552.9"/><circle class="b" r="5.25" cx="322.4" cy="506.3"/><circle class="r" r="5.25" cx="408.6" cy="544.5"/><circle class="b" r="5.25" cx="317.0" cy="514.0"/><circle class="b" r="5.25" cx="327.7" cy="493.6"/><circle class="r" r="5.25" cx="380.9" cy="538.5"/><circle class="b" r="5.25" cx="326.7" cy="493.3"/><circle class="b" r="5.25" cx="328.7" cy="520.4"/><circle class="b" r="5.25" cx="323.8" cy="509.8"/><circle class="b" r="5.25" cx="333.4" cy="497.0"/><circle class="r" r="5.25" cx="402.1" cy="562.7"/><circle class="r" r="5.25" cx="444.9" cy="564.6"/><circle class="r" r="5.25" cx="395.6" cy="418.0"/><circle class="r" r="5.25" cx="422.1" cy="550.9"/><circle class="b" r="5.25" cx="325.4" cy="415.0"/><circle class="r" r="5.25" cx="398.0" cy="511.6"/><circle class="r" r="5.25" cx="399.4" cy="532.0"/><circle class="r" r="5.25" cx="374.2" cy="523.7"/><circle class="r" r="5.25" cx="397.3" cy="527.0"/><circle class="r" r="5.25" cx="402.9" cy="514.8"/><circle class="r" r="5.25" cx="410.0" cy="535.2"/><circle class="r" r="5.25" cx="397.1" cy="522.4"/><circle class="r" r="5.25" cx="412.5" cy="531.1"/><circle class="r" r="5.25" cx="377.2" cy="523.4"/><circle class="b" r="5.25" cx="295.0" cy="282.0"/><circle class="r" r="5.25" cx="416.6" cy="534.5"/><circle class="r" r="5.25" cx="403.8" cy="513.3"/><circle class="r" r="5.25" cx="417.2" cy="531.0"/><circle class="r" r="5.25" cx="448.1" cy="560.5"/><circle class="b" r="5.25" cx="324.0" cy="491.3"/><circle class="b" r="5.25" cx="315.9" cy="530.6"/><circle class="r" r="5.25" cx="404.3" cy="544.9"/><circle class="b" r="5.25" cx="332.6" cy="529.1"/><circle class="r" r="5.25" cx="372.4" cy="530.3"/><circle class="b" r="5.25" cx="309.9" cy="553.7"/><circle class="b" r="5.25" cx="327.0" cy="488.0"/><circle class="r" r="5.25" cx="451.8" cy="556.9"/><circle class="r" r="5.25" cx="389.2" cy="541.6"/><circle class="b" r="5.25" cx="331.2" cy="471.5"/><circle class="b" r="5.25" cx="342.1" cy="565.5"/><circle class="b" r="5.25" cx="322.1" cy="513.5"/><circle class="b" r="5.25" cx="324.1" cy="473.8"/><circle class="r" r="5.25" cx="396.9" cy="558.7"/><circle class="r" r="5.25" cx="446.4" cy="556.5"/><circle class="r" r="5.25" cx="418.6" cy="536.4"/><circle class="b" r="5.25" cx="323.9" cy="510.2"/><circle class="b" r="5.25" cx="315.4" cy="496.5"/><circle class="b" r="5.25" cx="336.2" cy="500.3"/><circle class="b" r="5.25" cx="305.9" cy="552.1"/><circle class="r" r="5.25" cx="415.8" cy="559.1"/><circle class="b" r="5.25" cx="331.3" cy="565.2"/><circle class="b" r="5.25" cx="323.4" cy="491.9"/><circle class="b" r="5.25" cx="316.6" cy="537.8"/><circle class="r" r="5.25" cx="393.5" cy="528.9"/><circle class="b" r="5.25" cx="316.4" cy="496.0"/><circle class="r" r="5.25" cx="390.3" cy="542.7"/><circle class="r" r="5.25" cx="405.6" cy="539.5"/><circle class="b" r="5.25" cx="334.4" cy="522.3"/><circle class="r" r="5.25" cx="387.6" cy="562.9"/><circle class="b" r="5.25" cx="329.0" cy="483.0"/><circle class="r" r="5.25" cx="450.3" cy="562.1"/><circle class="r" r="5.25" cx="465.1" cy="560.2"/><circle class="r" r="5.25" cx="374.3" cy="554.5"/><circle class="b" r="5.25" cx="310.6" cy="561.9"/><circle class="b" r="5.25" cx="297.5" cy="555.7"/><circle class="r" r="5.25" cx="397.5" cy="543.8"/><circle class="b" r="5.25" cx="322.7" cy="528.0"/><circle class="r" r="5.25" cx="454.8" cy="548.2"/><circle class="r" r="5.25" cx="378.1" cy="564.7"/><circle class="b" r="5.25" cx="317.1" cy="506.5"/><circle class="b" r="5.25" cx="331.2" cy="482.5"/><circle class="b" r="5.25" cx="319.7" cy="529.8"/><circle class="r" r="5.25" cx="392.6" cy="560.1"/><circle class="r" r="5.25" cx="386.1" cy="531.1"/><circle class="r" r="5.25" cx="390.9" cy="524.1"/><circle class="b" r="5.25" cx="334.6" cy="499.6"/><circle class="r" r="5.25" cx="413.2" cy="543.4"/><circle class="b" r="5.25" cx="315.9" cy="545.8"/><circle class="r" r="5.25" cx="387.0" cy="529.7"/><circle class="r" r="5.25" cx="391.6" cy="549.8"/><circle class="r" r="5.25" cx="407.9" cy="543.8"/><circle class="b" r="5.25" cx="322.2" cy="546.8"/><circle class="r" r="5.25" cx="399.1" cy="547.8"/><circle class="b" r="5.25" cx="327.9" cy="500.7"/><circle class="b" r="5.25" cx="322.9" cy="452.4"/><circle class="b" r="5.25" cx="332.4" cy="553.3"/><circle class="r" r="5.25" cx="385.0" cy="554.6"/><circle class="r" r="5.25" cx="414.8" cy="544.3"/><circle class="b" r="5.25" cx="321.7" cy="465.5"/><circle class="r" r="5.25" cx="406.3" cy="513.8"/><circle class="r" r="5.25" cx="403.9" cy="537.7"/><circle class="r" r="5.25" cx="391.2" cy="513.9"/><circle class="b" r="5.25" cx="334.7" cy="548.7"/><circle class="b" r="5.25" cx="302.5" cy="550.3"/><circle class="b" r="5.25" cx="331.0" cy="500.5"/><circle class="b" r="5.25" cx="327.4" cy="530.1"/><circle class="b" r="5.25" cx="326.6" cy="477.7"/><circle class="r" r="5.25" cx="404.8" cy="518.2"/><circle class="b" r="5.25" cx="345.8" cy="548.5"/><circle class="b" r="5.25" cx="331.7" cy="541.0"/><circle class="b" r="5.25" cx="318.4" cy="512.0"/><circle class="r" r="5.25" cx="478.0" cy="547.0"/><circle class="b" r="5.25" cx="331.8" cy="482.1"/><circle class="r" r="5.25" cx="430.5" cy="541.0"/><circle class="b" r="5.25" cx="334.4" cy="470.5"/><circle class="b" r="5.25" cx="299.3" cy="547.3"/><circle class="b" r="5.25" cx="340.2" cy="549.7"/><circle class="b" r="5.25" cx="304.8" cy="555.2"/><circle class="r" r="5.25" cx="420.8" cy="419.7"/><circle class="b" r="5.25" cx="319.1" cy="559.8"/><circle class="b" r="5.25" cx="307.2" cy="540.7"/><circle class="r" r="5.25" cx="372.3" cy="529.1"/><circle class="r" r="5.25" cx="394.0" cy="559.3"/><circle class="r" r="5.25" cx="394.9" cy="510.7"/><circle class="b" r="5.25" cx="321.6" cy="467.5"/><circle class="r" r="5.25" cx="386.9" cy="538.9"/><circle class="r" r="5.25" cx="438.3" cy="545.2"/><circle class="b" r="5.25" cx="326.5" cy="557.2"/><circle class="r" r="5.25" cx="399.4" cy="559.9"/><circle class="r" r="5.25" cx="376.9" cy="555.3"/><circle class="r" r="5.25" cx="420.3" cy="554.4"/><circle class="r" r="5.25" cx="470.0" cy="556.0"/><circle class="r" r="5.25" cx="434.9" cy="545.5"/><circle class="b" r="5.25" cx="330.5" cy="555.6"/><circle class="b" r="5.25" cx="337.4" cy="514.8"/><circle class="r" r="5.25" cx="394.2" cy="534.5"/><circle class="r" r="5.25" cx="377.4" cy="549.2"/><circle class="r" r="5.25" cx="458.4" cy="562.5"/><circle class="b" r="5.25" cx="324.0" cy="546.2"/><circle class="b" r="5.25" cx="326.8" cy="559.2"/><circle class="b" r="5.25" cx="323.9" cy="556.4"/><circle class="b" r="5.25" cx="330.4" cy="531.1"/><circle class="r" r="5.25" cx="408.9" cy="539.8"/><circle class="r" r="5.25" cx="395.4" cy="565.2"/><circle class="r" r="5.25" cx="450.8" cy="549.8"/><circle class="b" r="5.25" cx="343.5" cy="564.5"/><circle class="r" r="5.25" cx="409.8" cy="560.4"/><circle class="b" r="5.25" cx="316.7" cy="544.1"/><circle class="r" r="5.25" cx="395.0" cy="508.7"/><circle class="b" r="5.25" cx="263.4" cy="565.8"/><circle class="r" r="5.25" cx="393.4" cy="507.3"/><circle class="r" r="5.25" cx="394.3" cy="516.0"/><circle class="b" r="5.25" cx="340.1" cy="534.8"/><circle class="r" r="5.25" cx="385.9" cy="520.9"/><circle class="r" r="5.25" cx="379.0" cy="555.0"/><circle class="r" r="5.25" cx="389.0" cy="535.3"/><circle class="r" r="5.25" cx="381.5" cy="549.5"/><circle class="b" r="5.25" cx="339.4" cy="545.2"/><circle class="r" r="5.25" cx="417.0" cy="537.9"/><circle class="b" r="5.25" cx="306.3" cy="558.4"/><circle class="b" r="5.25" cx="270.2" cy="561.0"/><circle class="b" r="5.25" cx="314.1" cy="521.4"/><circle class="r" r="5.25" cx="391.8" cy="505.8"/><circle class="b" r="5.25" cx="338.9" cy="529.9"/><circle class="b" r="5.25" cx="313.5" cy="501.3"/><circle class="r" r="5.25" cx="396.5" cy="551.6"/><circle class="r" r="5.25" cx="432.1" cy="565.1"/><circle class="r" r="5.25" cx="377.7" cy="553.4"/><circle class="b" r="5.25" cx="329.9" cy="526.9"/><circle class="r" r="5.25" cx="426.6" cy="557.2"/><circle class="b" r="5.25" cx="319.1" cy="480.0"/><circle class="b" r="5.25" cx="341.3" cy="555.7"/><circle class="r" r="5.25" cx="404.0" cy="513.0"/><circle class="r" r="5.25" cx="415.1" cy="553.3"/><circle class="r" r="5.25" cx="381.5" cy="501.8"/><circle class="b" r="5.25" cx="325.1" cy="538.5"/><circle class="r" r="5.25" cx="419.9" cy="534.3"/><circle class="b" r="5.25" cx="330.0" cy="495.1"/><circle class="b" r="5.25" cx="296.9" cy="562.1"/><circle class="b" r="5.25" cx="288.3" cy="565.1"/><circle class="b" r="5.25" cx="316.2" cy="522.7"/><circle class="b" r="5.25" cx="325.6" cy="489.9"/><circle class="b" r="5.25" cx="313.1" cy="501.1"/><circle class="r" r="5.25" cx="418.6" cy="537.2"/><circle class="b" r="5.25" cx="341.3" cy="559.4"/><circle class="r" r="5.25" cx="380.3" cy="530.0"/><circle class="r" r="5.25" cx="382.2" cy="524.2"/><circle class="b" r="5.25" cx="309.0" cy="498.0"/><circle class="r" r="5.25" cx="391.2" cy="527.6"/><circle class="b" r="5.25" cx="330.7" cy="545.0"/><circle class="b" r="5.25" cx="324.6" cy="486.7"/><circle class="b" r="5.25" cx="328.9" cy="512.0"/><circle class="r" r="5.25" cx="441.4" cy="561.1"/><circle class="r" r="5.25" cx="403.1" cy="516.0"/><circle class="b" r="5.25" cx="325.4" cy="420.0"/><circle class="r" r="5.25" cx="391.2" cy="517.8"/><circle class="r" r="5.25" cx="402.3" cy="545.5"/><circle class="r" r="5.25" cx="478.5" cy="478.0"/><circle class="r" r="5.25" cx="401.4" cy="558.8"/><circle class="b" r="5.25" cx="334.9" cy="551.5"/><circle class="r" r="5.25" cx="394.3" cy="553.2"/><circle class="b" r="5.25" cx="332.3" cy="563.5"/><circle class="r" r="5.25" cx="393.1" cy="538.8"/><circle class="b" r="5.25" cx="323.3" cy="560.8"/><circle class="b" r="5.25" cx="176.0" cy="553.2"/><circle class="r" r="5.25" cx="456.1" cy="549.1"/><circle class="r" r="5.25" cx="370.7" cy="555.7"/><circle class="b" r="5.25" cx="318.5" cy="540.9"/><circle class="r" r="5.25" cx="473.8" cy="534.4"/><circle class="r" r="5.25" cx="419.5" cy="533.0"/><circle class="r" r="5.25" cx="405.1" cy="543.4"/><circle class="b" r="5.25" cx="319.8" cy="500.6"/><circle class="r" r="5.25" cx="421.7" cy="537.6"/><circle class="r" r="5.25" cx="375.9" cy="520.0"/><circle class="b" r="5.25" cx="333.8" cy="517.3"/><circle class="b" r="5.25" cx="337.8" cy="515.5"/><circle class="b" r="5.25" cx="336.6" cy="503.4"/><circle class="r" r="5.25" cx="378.7" cy="540.4"/><circle class="r" r="5.25" cx="474.0" cy="562.0"/><circle class="b" r="5.25" cx="322.1" cy="481.3"/><circle class="b" r="5.25" cx="318.7" cy="477.7"/><circle class="r" r="5.25" cx="408.7" cy="517.0"/><circle class="b" r="5.25" cx="324.3" cy="450.9"/><circle class="r" r="5.25" cx="377.5" cy="533.8"/><circle class="b" r="5.25" cx="316.9" cy="515.0"/><circle class="r" r="5.25" cx="399.7" cy="550.2"/><circle class="b" r="5.25" cx="316.9" cy="502.9"/><circle class="r" r="5.25" cx="399.3" cy="565.3"/><circle class="r" r="5.25" cx="446.1" cy="562.9"/><circle class="r" r="5.25" cx="372.1" cy="545.9"/><circle class="b" r="5.25" cx="295.3" cy="563.3"/><circle class="r" r="5.25" cx="372.3" cy="546.8"/><circle class="r" r="5.25" cx="440.0" cy="366.6"/><circle class="r" r="5.25" cx="376.9" cy="525.5"/><circle class="r" r="5.25" cx="390.5" cy="526.5"/><circle class="r" r="5.25" cx="389.2" cy="518.9"/><circle class="b" r="5.25" cx="316.2" cy="501.0"/><circle class="r" r="5.25" cx="371.9" cy="535.6"/><circle class="b" r="5.25" cx="323.2" cy="474.2"/><circle class="b" r="5.25" cx="319.7" cy="473.4"/><circle class="b" r="5.25" cx="324.6" cy="501.8"/><circle class="b" r="5.25" cx="331.0" cy="461.0"/><circle class="b" r="5.25" cx="326.6" cy="540.1"/><circle class="b" r="5.25" cx="325.8" cy="549.5"/><circle class="b" r="5.25" cx="281.5" cy="557.8"/><circle class="r" r="5.25" cx="412.6" cy="561.9"/><circle class="b" r="5.25" cx="322.0" cy="504.1"/><circle class="b" r="5.25" cx="266.9" cy="565.2"/><circle class="b" r="5.25" cx="323.2" cy="563.0"/><circle class="b" r="5.25" cx="343.0" cy="541.7"/><circle class="r" r="5.25" cx="423.0" cy="534.0"/><circle class="b" r="5.25" cx="286.5" cy="552.9"/><circle class="r" r="5.25" cx="448.7" cy="558.2"/><circle class="b" r="5.25" cx="303.4" cy="565.2"/><circle class="b" r="5.25" cx="307.0" cy="490.0"/><circle class="b" r="5.25" cx="337.9" cy="530.0"/><circle class="b" r="5.25" cx="306.0" cy="547.2"/><circle class="r" r="5.25" cx="422.5" cy="552.6"/><circle class="b" r="5.25" cx="318.7" cy="493.4"/><circle class="r" r="5.25" cx="425.0" cy="535.9"/><circle class="r" r="5.25" cx="407.3" cy="557.4"/><circle class="b" r="5.25" cx="286.7" cy="563.9"/><circle class="b" r="5.25" cx="321.3" cy="482.0"/><circle class="r" r="5.25" cx="456.1" cy="557.3"/><circle class="b" r="5.25" cx="313.6" cy="496.6"/><circle class="r" r="5.25" cx="411.5" cy="564.1"/><circle class="b" r="5.25" cx="276.9" cy="557.3"/><circle class="r" r="5.25" cx="401.0" cy="471.5"/><circle class="b" r="5.25" cx="314.0" cy="480.0"/><circle class="b" r="5.25" cx="326.9" cy="477.0"/><circle class="r" r="5.25" cx="411.1" cy="549.3"/><circle class="b" r="5.25" cx="317.9" cy="476.1"/><circle class="r" r="5.25" cx="389.0" cy="505.4"/><circle class="b" r="5.25" cx="316.0" cy="511.8"/><circle class="r" r="5.25" cx="474.0" cy="533.0"/><circle class="r" r="5.25" cx="398.5" cy="564.2"/><circle class="r" r="5.25" cx="408.3" cy="515.7"/><circle class="b" r="5.25" cx="320.1" cy="505.2"/><circle class="b" r="5.25" cx="331.6" cy="470.4"/><circle class="b" r="5.25" cx="317.5" cy="552.1"/><circle class="r" r="5.25" cx="386.6" cy="464.5"/><circle class="r" r="5.25" cx="464.5" cy="565.5"/><circle class="b" r="5.25" cx="326.5" cy="452.0"/><circle class="r" r="5.25" cx="373.1" cy="543.7"/><circle class="r" r="5.25" cx="396.6" cy="539.0"/><circle class="b" r="5.25" cx="314.3" cy="546.8"/><circle class="r" r="5.25" cx="383.5" cy="533.9"/><circle class="b" r="5.25" cx="318.2" cy="471.4"/><circle class="b" r="5.25" cx="334.0" cy="505.8"/><circle class="b" r="5.25" cx="316.0" cy="465.0"/><circle class="r" r="5.25" cx="398.1" cy="517.3"/><circle class="r" r="5.25" cx="394.2" cy="514.2"/><circle class="r" r="5.25" cx="392.6" cy="510.8"/><circle class="r" r="5.25" cx="406.7" cy="562.3"/><circle class="r" r="5.25" cx="417.6" cy="470.8"/><circle class="b" r="5.25" cx="290.1" cy="564.3"/><circle class="r" r="5.25" cx="386.9" cy="547.8"/><circle class="r" r="5.25" cx="402.4" cy="534.3"/><circle class="b" r="5.25" cx="317.4" cy="476.4"/><circle class="r" r="5.25" cx="402.2" cy="518.4"/><circle class="b" r="5.25" cx="328.2" cy="509.5"/><circle class="r" r="5.25" cx="372.6" cy="534.6"/><circle class="r" r="5.25" cx="396.8" cy="507.4"/><circle class="b" r="5.25" cx="324.3" cy="468.8"/><circle class="r" r="5.25" cx="393.4" cy="560.3"/><circle class="b" r="5.25" cx="344.3" cy="539.6"/><circle class="b" r="5.25" cx="336.5" cy="553.8"/><circle class="r" r="5.25" cx="396.3" cy="528.6"/><circle class="b" r="5.25" cx="330.8" cy="529.8"/><circle class="r" r="5.25" cx="405.6" cy="544.4"/><circle class="r" r="5.25" cx="441.5" cy="555.3"/><circle class="b" r="5.25" cx="310.0" cy="556.4"/><circle class="b" r="5.25" cx="318.1" cy="550.6"/><circle class="b" r="5.25" cx="294.5" cy="555.2"/><circle class="b" r="5.25" cx="340.2" cy="562.2"/><circle class="r" r="5.25" cx="381.2" cy="557.9"/><circle class="r" r="5.25" cx="378.2" cy="560.5"/><circle class="r" r="5.25" cx="383.5" cy="494.0"/><circle class="r" r="5.25" cx="409.5" cy="490.4"/><circle class="r" r="5.25" cx="382.8" cy="509.4"/><circle class="r" r="5.25" cx="384.7" cy="546.2"/><circle class="b" r="5.25" cx="324.9" cy="527.8"/><circle class="b" r="5.25" cx="165.0" cy="559.7"/><circle class="b" r="5.25" cx="333.9" cy="548.9"/><circle class="r" r="5.25" cx="461.0" cy="538.5"/><circle class="b" r="5.25" cx="308.7" cy="554.7"/><circle class="b" r="5.25" cx="330.9" cy="490.7"/><circle class="r" r="5.25" cx="409.0" cy="564.3"/><circle class="b" r="5.25" cx="342.5" cy="529.5"/><circle class="b" r="5.25" cx="305.5" cy="545.2"/><circle class="b" r="5.25" cx="248.0" cy="164.0"/><circle class="r" r="5.25" cx="459.6" cy="557.9"/><circle class="b" r="5.25" cx="310.3" cy="554.9"/><circle class="r" r="5.25" cx="419.9" cy="541.6"/><circle class="r" r="5.25" cx="428.2" cy="561.4"/><circle class="b" r="5.25" cx="323.4" cy="453.0"/><circle class="b" r="5.25" cx="316.5" cy="552.1"/><circle class="b" r="5.25" cx="313.3" cy="534.7"/><circle class="b" r="5.25" cx="295.6" cy="565.3"/><circle class="g" r="5.25" cx="319.4" cy="569.8"/><circle class="g" r="5.25" cx="457.2" cy="572.8"/><circle class="g" r="5.25" cx="297.8" cy="568.3"/><circle class="g" r="5.25" cx="262.6" cy="572.4"/><circle class="g" r="5.25" cx="259.5" cy="569.1"/><circle class="g" r="5.25" cx="471.3" cy="570.0"/><circle class="g" r="5.25" cx="426.4" cy="571.7"/><circle class="g" r="5.25" cx="467.2" cy="571.9"/><circle class="g" r="5.25" cx="316.4" cy="573.0"/><circle class="g" r="5.25" cx="423.5" cy="569.5"/><circle class="g" r="5.25" cx="251.9" cy="570.8"/><circle class="g" r="5.25" cx="379.2" cy="570.2"/><circle class="g" r="5.25" cx="375.6" cy="570.9"/><circle class="g" r="5.25" cx="369.6" cy="571.4"/><circle class="g" r="5.25" cx="416.5" cy="572.0"/><circle class="g" r="5.25" cx="319.8" cy="568.9"/><circle class="g" r="5.25" cx="304.1" cy="574.0"/><circle class="g" r="5.25" cx="431.7" cy="571.1"/><circle class="g" r="5.25" cx="408.9" cy="570.4"/><circle class="g" r="5.25" cx="447.4" cy="571.9"/><circle class="g" r="5.25" cx="341.0" cy="568.7"/><circle class="g" r="5.25" cx="290.8" cy="571.9"/><circle class="g" r="5.25" cx="324.5" cy="571.4"/><circle class="g" r="5.25" cx="436.2" cy="571.2"/><circle class="g" r="5.25" cx="378.2" cy="570.7"/><circle class="g" r="5.25" cx="248.5" cy="571.2"/><circle class="g" r="5.25" cx="237.6" cy="571.1"/><circle class="g" r="5.25" cx="476.0" cy="571.0"/><circle class="g" r="5.25" cx="338.6" cy="572.8"/><circle class="g" r="5.25" cx="271.1" cy="570.2"/><circle class="g" r="5.25" cx="326.3" cy="572.6"/><circle class="g" r="5.25" cx="229.0" cy="569.6"/><circle class="g" r="5.25" cx="389.8" cy="569.1"/><circle class="g" r="5.25" cx="421.5" cy="570.4"/><circle class="g" r="5.25" cx="272.5" cy="571.7"/><circle class="g" r="5.25" cx="287.9" cy="570.2"/><circle class="g" r="5.25" cx="291.7" cy="569.1"/><circle class="g" r="5.25" cx="408.4" cy="570.4"/><circle class="g" r="5.25" cx="233.0" cy="571.6"/><circle class="g" r="5.25" cx="416.4" cy="569.7"/><circle class="g" r="5.25" cx="311.7" cy="570.0"/><circle class="g" r="5.25" cx="455.9" cy="570.9"/><circle class="g" r="5.25" cx="430.9" cy="570.6"/><circle class="g" r="5.25" cx="271.0" cy="570.8"/><circle class="g" r="5.25" cx="442.8" cy="572.5"/><circle class="g" r="5.25" cx="231.6" cy="568.0"/><circle class="g" r="5.25" cx="317.6" cy="572.3"/><circle class="g" r="5.25" cx="240.8" cy="570.0"/><circle class="g" r="5.25" cx="230.7" cy="568.9"/><circle class="g" r="5.25" cx="411.1" cy="570.6"/><circle class="g" r="5.25" cx="229.7" cy="569.8"/><circle class="g" r="5.25" cx="354.8" cy="571.2"/><circle class="g" r="5.25" cx="360.6" cy="570.0"/><circle class="g" r="5.25" cx="466.0" cy="571.0"/><circle class="g" r="5.25" cx="237.6" cy="571.0"/><circle class="g" r="5.25" cx="289.2" cy="571.5"/><circle class="g" r="5.25" cx="333.7" cy="572.0"/><circle class="g" r="5.25" cx="438.0" cy="570.0"/><circle class="g" r="5.25" cx="438.2" cy="571.7"/><circle class="g" r="5.25" cx="222.9" cy="570.5"/><circle class="g" r="5.25" cx="251.2" cy="570.2"/><circle class="g" r="5.25" cx="345.5" cy="568.5"/><circle class="g" r="5.25" cx="443.7" cy="569.9"/><circle class="g" r="5.25" cx="378.1" cy="570.4"/><circle class="g" r="5.25" cx="277.6" cy="572.4"/><circle class="g" r="5.25" cx="444.9" cy="572.1"/><circle class="g" r="5.25" cx="248.9" cy="570.9"/><circle class="g" r="5.25" cx="351.5" cy="569.7"/><circle class="g" r="5.25" cx="392.0" cy="570.7"/><circle class="g" r="5.25" cx="365.3" cy="569.5"/><circle class="g" r="5.25" cx="422.6" cy="570.7"/><circle class="g" r="5.25" cx="334.8" cy="569.1"/><circle class="g" r="5.25" cx="335.5" cy="571.9"/><circle class="g" r="5.25" cx="422.3" cy="569.8"/><circle class="g" r="5.25" cx="334.7" cy="571.4"/><circle class="g" r="5.25" cx="315.2" cy="569.4"/><circle class="g" r="5.25" cx="481.5" cy="567.7"/><circle class="g" r="5.25" cx="456.4" cy="571.0"/><circle class="g" r="5.25" cx="461.9" cy="572.8"/><circle class="g" r="5.25" cx="276.0" cy="571.2"/><circle class="g" r="5.25" cx="277.7" cy="570.4"/><circle class="g" r="5.25" cx="231.8" cy="571.3"/><circle class="g" r="5.25" cx="354.9" cy="572.0"/><circle class="g" r="5.25" cx="298.7" cy="570.8"/><circle class="g" r="5.25" cx="282.7" cy="570.8"/><circle class="g" r="5.25" cx="264.1" cy="572.1"/><circle class="g" r="5.25" cx="409.0" cy="568.3"/><circle class="g" r="5.25" cx="455.2" cy="570.9"/><circle class="g" r="5.25" cx="303.7" cy="568.3"/><circle class="g" r="5.25" cx="232.2" cy="573.2"/><circle class="g" r="5.25" cx="247.0" cy="568.6"/><circle class="g" r="5.25" cx="353.9" cy="574.0"/><circle class="g" r="5.25" cx="431.5" cy="570.5"/><circle class="g" r="5.25" cx="282.9" cy="568.3"/><circle class="g" r="5.25" cx="311.9" cy="574.0"/><circle class="g" r="5.25" cx="429.0" cy="570.9"/><circle class="g" r="5.25" cx="459.5" cy="570.0"/><circle class="g" r="5.25" cx="315.4" cy="573.5"/><circle class="g" r="5.25" cx="330.7" cy="572.1"/><circle class="g" r="5.25" cx="308.6" cy="572.8"/><circle class="g" r="5.25" cx="284.5" cy="571.5"/><circle class="g" r="5.25" cx="255.1" cy="570.7"/><circle class="g" r="5.25" cx="317.0" cy="571.4"/><circle class="g" r="5.25" cx="245.3" cy="571.9"/><circle class="g" r="5.25" cx="417.3" cy="573.3"/><circle class="g" r="5.25" cx="443.0" cy="570.7"/><circle class="g" r="5.25" cx="232.2" cy="568.8"/><circle class="g" r="5.25" cx="347.7" cy="571.0"/><circle class="g" r="5.25" cx="236.7" cy="569.4"/><circle class="g" r="5.25" cx="468.9" cy="572.1"/><circle class="g" r="5.25" cx="415.0" cy="570.9"/><circle class="g" r="5.25" cx="373.9" cy="569.1"/><circle class="g" r="5.25" cx="290.2" cy="570.5"/><circle class="g" r="5.25" cx="438.6" cy="570.3"/><circle class="g" r="5.25" cx="222.3" cy="567.8"/><circle class="g" r="5.25" cx="391.5" cy="569.7"/><circle class="g" r="5.25" cx="420.9" cy="568.5"/><circle class="g" r="5.25" cx="418.8" cy="570.6"/><circle class="g" r="5.25" cx="276.5" cy="571.7"/><circle class="g" r="5.25" cx="264.3" cy="572.8"/><circle class="g" r="5.25" cx="406.9" cy="572.6"/><circle class="g" r="5.25" cx="418.7" cy="569.6"/><circle class="g" r="5.25" cx="426.8" cy="568.3"/><circle class="g" r="5.25" cx="270.2" cy="570.9"/><circle class="g" r="5.25" cx="464.6" cy="569.6"/><circle class="g" r="5.25" cx="249.6" cy="570.3"/><circle class="g" r="5.25" cx="224.7" cy="571.7"/><circle class="g" r="5.25" cx="407.4" cy="568.3"/><circle class="g" r="5.25" cx="293.5" cy="570.2"/><circle class="g" r="5.25" cx="401.1" cy="570.3"/><circle class="g" r="5.25" cx="423.0" cy="568.3"/><circle class="g" r="5.25" cx="363.0" cy="572.0"/><circle class="g" r="5.25" cx="431.4" cy="572.2"/><circle class="g" r="5.25" cx="437.2" cy="570.5"/><circle class="g" r="5.25" cx="466.6" cy="572.3"/><circle class="g" r="5.25" cx="254.6" cy="570.4"/><circle class="g" r="5.25" cx="408.3" cy="570.5"/><circle class="g" r="5.25" cx="245.3" cy="571.1"/><circle class="g" r="5.25" cx="300.1" cy="572.3"/><circle class="g" r="5.25" cx="378.3" cy="570.9"/><circle class="g" r="5.25" cx="236.0" cy="569.0"/><circle class="g" r="5.25" cx="249.4" cy="571.0"/><circle class="g" r="5.25" cx="346.5" cy="572.2"/><circle class="g" r="5.25" cx="461.8" cy="571.8"/><circle class="g" r="5.25" cx="353.9" cy="569.1"/><circle class="g" r="5.25" cx="349.4" cy="570.2"/><circle class="g" r="5.25" cx="292.1" cy="572.2"/><circle class="g" r="5.25" cx="319.8" cy="568.3"/><circle class="g" r="5.25" cx="330.8" cy="569.4"/><circle class="g" r="5.25" cx="368.4" cy="568.8"/><circle class="g" r="5.25" cx="456.0" cy="571.4"/><circle class="g" r="5.25" cx="422.2" cy="571.7"/><circle class="g" r="5.25" cx="446.4" cy="570.9"/><circle class="g" r="5.25" cx="461.0" cy="570.9"/><circle class="g" r="5.25" cx="262.6" cy="568.3"/><circle class="g" r="5.25" cx="233.6" cy="570.1"/><circle class="g" r="5.25" cx="400.4" cy="570.0"/><circle class="g" r="5.25" cx="290.3" cy="569.1"/><circle class="g" r="5.25" cx="426.1" cy="570.7"/><circle class="g" r="5.25" cx="358.0" cy="571.5"/><circle class="g" r="5.25" cx="395.9" cy="569.2"/><circle class="g" r="5.25" cx="294.4" cy="572.0"/><circle class="g" r="5.25" cx="352.7" cy="571.8"/><circle class="g" r="5.25" cx="347.7" cy="570.4"/><circle class="g" r="5.25" cx="444.9" cy="571.0"/><circle class="g" r="5.25" cx="289.7" cy="571.2"/><circle class="g" r="5.25" cx="430.2" cy="570.1"/><circle class="g" r="5.25" cx="422.2" cy="571.6"/><circle class="g" r="5.25" cx="241.8" cy="569.0"/><circle class="g" r="5.25" cx="417.5" cy="571.4"/><circle class="g" r="5.25" cx="306.8" cy="568.8"/><circle class="g" r="5.25" cx="322.7" cy="572.6"/><circle class="g" r="5.25" cx="306.7" cy="571.5"/><circle class="g" r="5.25" cx="418.3" cy="570.3"/><circle class="g" r="5.25" cx="445.6" cy="570.7"/><circle class="g" r="5.25" cx="335.6" cy="571.1"/><circle class="g" r="5.25" cx="302.6" cy="573.1"/><circle class="g" r="5.25" cx="494.4" cy="572.8"/><circle class="g" r="5.25" cx="280.0" cy="571.9"/><circle class="g" r="5.25" cx="243.8" cy="571.7"/><circle class="g" r="5.25" cx="309.5" cy="569.6"/><circle class="g" r="5.25" cx="399.9" cy="570.4"/><circle class="g" r="5.25" cx="321.2" cy="569.3"/><circle class="g" r="5.25" cx="257.8" cy="569.5"/><circle class="g" r="5.25" cx="447.2" cy="571.0"/><circle class="g" r="5.25" cx="223.1" cy="570.8"/><circle class="g" r="5.25" cx="389.7" cy="573.3"/><circle class="g" r="5.25" cx="312.2" cy="571.4"/><circle class="g" r="5.25" cx="309.4" cy="570.1"/><circle class="g" r="5.25" cx="310.1" cy="570.3"/><circle class="g" r="5.25" cx="377.0" cy="570.3"/><circle class="g" r="5.25" cx="262.2" cy="573.3"/><circle class="g" r="5.25" cx="306.2" cy="569.0"/><circle class="g" r="5.25" cx="302.6" cy="572.1"/><circle class="g" r="5.25" cx="455.1" cy="570.5"/><circle class="g" r="5.25" cx="456.6" cy="573.6"/><circle class="g" r="5.25" cx="438.1" cy="571.7"/><circle class="g" r="5.25" cx="447.2" cy="572.5"/><circle class="g" r="5.25" cx="267.7" cy="570.6"/><circle class="g" r="5.25" cx="375.3" cy="570.1"/><circle class="g" r="5.25" cx="287.5" cy="570.2"/><circle class="g" r="5.25" cx="311.2" cy="570.6"/><circle class="g" r="5.25" cx="349.0" cy="570.2"/><circle class="g" r="5.25" cx="322.1" cy="571.6"/><circle class="g" r="5.25" cx="395.5" cy="573.2"/><circle class="g" r="5.25" cx="427.0" cy="569.9"/><circle class="g" r="5.25" cx="388.8" cy="573.9"/><circle class="g" r="5.25" cx="290.2" cy="572.6"/><circle class="g" r="5.25" cx="440.0" cy="572.1"/><circle class="g" r="5.25" cx="439.9" cy="569.3"/><circle class="g" r="5.25" cx="322.1" cy="570.1"/><circle class="g" r="5.25" cx="360.9" cy="569.9"/><circle class="g" r="5.25" cx="443.1" cy="573.4"/><circle class="g" r="5.25" cx="426.8" cy="572.4"/><circle class="g" r="5.25" cx="392.9" cy="569.4"/><circle class="g" r="5.25" cx="307.4" cy="571.5"/><circle class="g" r="5.25" cx="455.2" cy="569.9"/><circle class="g" r="5.25" cx="393.3" cy="570.5"/><circle class="g" r="5.25" cx="334.6" cy="570.2"/><circle class="g" r="5.25" cx="287.8" cy="571.0"/><circle class="g" r="5.25" cx="343.1" cy="571.4"/><circle class="g" r="5.25" cx="305.2" cy="571.3"/><circle class="g" r="5.25" cx="319.3" cy="571.0"/><circle class="g" r="5.25" cx="255.2" cy="571.6"/><circle class="g" r="5.25" cx="312.0" cy="572.4"/><circle class="g" r="5.25" cx="439.6" cy="572.1"/><circle class="g" r="5.25" cx="388.5" cy="570.4"/><circle class="g" r="5.25" cx="251.4" cy="568.9"/><circle class="g" r="5.25" cx="488.0" cy="571.5"/><circle class="g" r="5.25" cx="418.8" cy="569.7"/><circle class="g" r="5.25" cx="350.0" cy="571.6"/><circle class="g" r="5.25" cx="406.3" cy="571.8"/><circle class="g" r="5.25" cx="299.4" cy="572.0"/><circle class="g" r="5.25" cx="387.2" cy="569.8"/><circle class="g" r="5.25" cx="237.4" cy="569.0"/><circle class="g" r="5.25" cx="421.8" cy="570.5"/><circle class="g" r="5.25" cx="258.0" cy="570.0"/><circle class="g" r="5.25" cx="429.4" cy="572.0"/><circle class="g" r="5.25" cx="454.4" cy="572.8"/><circle class="g" r="5.25" cx="415.1" cy="569.4"/><circle class="g" r="5.25" cx="346.4" cy="571.2"/><circle class="g" r="5.25" cx="278.9" cy="571.0"/><circle class="r" r="5.25" cx="472.6" cy="563.8"/><circle class="r" r="5.25" cx="485.4" cy="563.8"/><circle class="r" r="5.25" cx="491.8" cy="566.0"/><circle class="r" r="5.25" cx="502.0" cy="560.0"/><circle class="r" r="5.25" cx="505.0" cy="561.5"/><circle class="r" r="5.25" cx="508.5" cy="561.0"/><circle class="r" r="5.25" cx="511.0" cy="562.0"/><circle class="r" r="5.25" cx="516.2" cy="567.0"/><circle class="r" r="5.25" cx="522.6" cy="565.0"/><circle class="r" r="5.25" cx="538.7" cy="565.0"/><circle class="r" r="5.25" cx="540.0" cy="563.5"/><circle class="r" r="5.25" cx="547.0" cy="563.0"/><circle class="r" r="5.25" cx="563.6" cy="565.0"/><circle class="r" r="5.25" cx="572.0" cy="564.0"/><circle class="r" r="5.25" cx="573.3" cy="567.0"/><circle class="r" r="5.25" cx="597.0" cy="558.0"/><circle class="r" r="5.25" cx="597.5" cy="560.0"/><circle class="r" r="5.25" cx="606.0" cy="563.0"/></g><g stroke="#000" stroke-width="2" fill="none"><line x1="93.2" x2="102.2" y1="573.9" y2="573.9"/><line x1="93.2" x2="102.2" y1="473.0" y2="473.0"/><line x1="93.2" x2="102.2" y1="372.1" y2="372.1"/><line x1="93.2" x2="102.2" y1="271.3" y2="271.3"/><line x1="93.2" x2="102.2" y1="170.4" y2="170.4"/><line x1="93.2" x2="102.2" y1="69.5" y2="69.5"/><line x1="191.8" x2="191.8" y1="601.0" y2="610.6"/><line x1="356.0" x2="356.0" y1="601.0" y2="610.6"/><line x1="520.2" x2="520.2" y1="601.0" y2="610.6"/></g><rect x="102.2" y="2.0" width="527.6" height="599.0" fill="none" stroke="#000" stroke-width="2.2"/><g class="tx"><text transform="translate(83.6 584.1) scale(1 1.04)" text-anchor="end">0</text><text transform="translate(83.6 483.2) scale(1 1.04)" text-anchor="end">20</text><text transform="translate(83.6 382.3) scale(1 1.04)" text-anchor="end">40</text><text transform="translate(83.6 281.5) scale(1 1.04)" text-anchor="end">60</text><text transform="translate(83.6 180.6) scale(1 1.04)" text-anchor="end">80</text><text transform="translate(83.6 79.7) scale(1 1.04)" text-anchor="end">100</text><text transform="translate(191.8 640.3) scale(1 1.04)" text-anchor="middle">−5</text><text transform="translate(356.0 640.3) scale(1 1.04)" text-anchor="middle">0</text><text transform="translate(520.2 640.3) scale(1 1.04)" text-anchor="middle">5</text></g><text class="tx" x="366.5" y="675.8" text-anchor="middle">log2 Fold Change (IP vs. input)</text><text class="yl" transform="translate(23,299.9) rotate(-90)" text-anchor="middle">-log10(adjusted p-value)</text><rect x="333.5" y="15.6" width="283.5" height="122.2" rx="4" ry="4" fill="#fff" fill-opacity="0.8" stroke="#d0d0d0" stroke-width="1.9"/><circle cx="371.3" cy="38.6" r="9.6" fill="#f95d5d" stroke="#fff" stroke-width="0.8"/><text class="tx" x="419.5" y="46.2">Enriched RNAs</text><circle cx="371.3" cy="77.1" r="9.6" fill="#5c8af8" stroke="#fff" stroke-width="0.8"/><text class="tx" x="419.5" y="84.7">Depleted RNAs</text><circle cx="371.3" cy="115.6" r="9.6" fill="#888888" stroke="#fff" stroke-width="0.8"/><text class="tx" x="419.5" y="123.2">Neither</text><g stroke="#000" stroke-width="2.1" fill="none"><line x1="444" y1="365" x2="473.4" y2="356.5"/><line x1="421.5" y1="403.3" x2="398" y2="416.5"/><line x1="425" y1="420.3" x2="449.4" y2="422.8"/><line x1="391.8" y1="450.6" x2="395.6" y2="450.6"/><line x1="398" y1="466.4" x2="457" y2="473.9"/><line x1="308.7" y1="388.8" x2="387" y2="396.4"/><line x1="352.5" y1="407.6" x2="385.4" y2="416"/><line x1="325.4" y1="435.2" x2="386.7" y2="434.4"/><line x1="369.5" y1="464.9" x2="385.3" y2="466.6"/><line x1="386.4" y1="461.8" x2="386.4" y2="470.6"/></g><g class="an"><text transform="translate(440.5 360.5) scale(1 1.04)">OST4</text><text transform="translate(402.6 395) scale(1 1.04)">SPARC</text><text transform="translate(454.6 435.9) scale(1 1.04)">ERG28</text><text transform="translate(394.4 461.3) scale(1 1.04)">SHC1</text><text transform="translate(462.8 488) scale(1 1.04)">CRTAP</text><text transform="translate(205.4 389.1) scale(1 1.04)">NOMO2</text><text transform="translate(303 414.4) scale(1 1.04)">BRPF3</text><text transform="translate(215.4 443) scale(1 1.04)">KDELR1</text><text transform="translate(289.5 467.8) scale(1 1.04)">PTMS</text><text transform="translate(350 494.6) scale(1 1.04)">BAG6</text></g><text class="tx" x="624.8" y="598.8" text-anchor="end">total = 29751, enriched = 1980</text></svg>
</body></html>
